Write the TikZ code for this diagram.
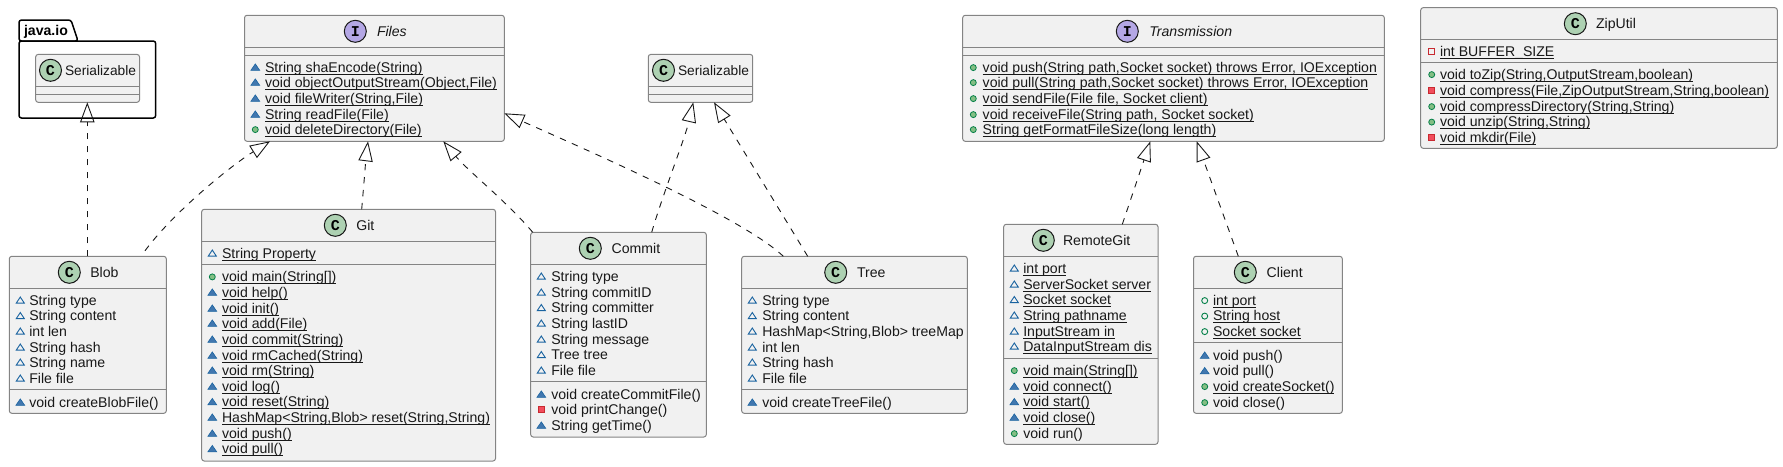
\documentclass[tikz,border=0pt]{standalone}
\usepackage{fontspec}
\setmainfont{Liberation Sans}
\newfontfamily\spotfont{Liberation Mono}
\usetikzlibrary{arrows.meta}
\definecolor{boxfill}{HTML}{F1F1F1}
\definecolor{boxline}{HTML}{848484}
\definecolor{ink}{HTML}{181818}
\definecolor{spotC}{HTML}{ADD1B2}
\definecolor{spotI}{HTML}{B4A7E5}
\definecolor{pkgfill}{HTML}{4177AF}
\definecolor{pkgline}{HTML}{1963A0}
\definecolor{pubfill}{HTML}{84BE84}
\definecolor{publine}{HTML}{038048}
\definecolor{prifill}{HTML}{F24D5C}
\definecolor{priline}{HTML}{C82930}
\newcommand\fs{\fontsize{14.1}{16}\selectfont}
\newcommand\sersz{\fontsize{13.75}{16}\selectfont}
\tikzset{
  x=1pt,y=-1pt,
  box/.style={draw=boxline,fill=boxfill,line width=1pt,rounded corners=2.5pt,inner sep=0pt,outer sep=0pt},
  sepline/.style={draw=boxline,line width=1pt},
  txt/.style={anchor=base west,inner sep=0pt,outer sep=0pt,text=ink,font=\fs},
  spot/.style={circle,draw=ink,line width=1pt,minimum size=22pt,inner sep=0pt,text=black,font=\spotfont\bfseries\fontsize{15}{15}\selectfont},
  impl/.style={draw=ink,line width=0.9pt,dash pattern=on 6.4pt off 6.6pt,-{Triangle[open,length=20pt,width=14.4pt,fill=none]}},
  pkgbox/.style={draw=black,line width=1.5pt,fill=white,rounded corners=2.5pt},
}
\newcount\rowc
\newcommand\iPkgM[2]{\fill[pkgfill,draw=pkgline,line width=.6pt] (#1-4.4,#2+3.3) -- (#1+4.4,#2+3.3) -- (#1,#2-3.1) -- cycle;}
\newcommand\iPkgF[2]{\draw[pkgline,line width=.9pt] (#1-4,#2+3.1) -- (#1+4,#2+3.1) -- (#1,#2-3.0) -- cycle;}
\newcommand\iPubM[2]{\fill[pubfill,draw=publine,line width=.8pt] (#1,#2+.6) circle (3pt);}
\newcommand\iPubF[2]{\draw[publine,line width=.9pt] (#1,#2+.6) circle (3pt);}
\newcommand\iPriM[2]{\fill[prifill,draw=priline,line width=.6pt] (#1-3,#2-2.6) rectangle (#1+3,#2+3.4);}
\newcommand\iPriF[2]{\draw[priline,line width=.9pt] (#1-3,#2-2.6) rectangle (#1+3,#2+3.4);}
\newcommand\ulin[1]{\setbox0\hbox{#1}\rlap{\rule[-2.7pt]{\wd0}{1pt}}\box0 }
% plain row: kind, y-centre, text
\newcommand\rw[3]{\csname i#1\endcsname{\ix}{#2}\global\advance\rowc by 1
  \node[txt] (row\the\rowc) at (\tx,#2+5) {#3};}
% underlined (static) row
\newcommand\ur[3]{\rw{#1}{#2}{\ulin{#3}}}
% class box: name,x0,y0,x1,y1,sep1,sep2,spot cx,spot cy,letter,title x,title
\newcommand\cls[9]{\node[box,minimum width={#4-#2},minimum height={#5-#3}] (#1) at ({(#2+#4)/2},{(#3+#5)/2}) {};
  \draw[sepline] (#2,#6) -- (#4,#6); \draw[sepline] (#2,#7) -- (#4,#7);
  \def\spx{#8}\def\spy{#9}\clsb{#1}}
\newcommand\clsb[4]{\node[spot,fill=spot#2] (#1spot) at (\spx,\spy) {#2};
  \node[txt] (#1title) at (#3,\spy+5) {#4};}
\begin{document}
\begin{tikzpicture}
\useasboundingbox (0,0) rectangle (1783,466);
% package java.io
\draw[pkgbox] (19,41) -- (19,20) -- (71,20) -- (78,41) -- cycle;
\draw[pkgbox] (19,41) -- (155.7,41) -- (155.7,118) -- (19,118) -- cycle;
\node[txt,font=\fs\bfseries,text=black] (pkgname) at (24,35.5) {java.io};
% Serializable in java.io
\cls{ioser}{35.7}{54.4}{139.5}{102.3}{86.3}{94.3}{50.5}{70.3}{C}{65}{\sersz Serializable}
% Files
\cls{files}{244.5}{15.3}{504.3}{141.3}{47.3}{55.3}{355.3}{31.3}{I}{377}{\itshape Files}
\def\ix{255.3}\def\tx{265}
\ur{PkgM}{67}{String shaEncode(String)}
\ur{PkgM}{82}{void objectOutputStream(Object,File)}
\ur{PkgM}{98}{void fileWriter(String,File)}
\ur{PkgM}{114}{String readFile(File)}
\ur{PubM}{129}{void deleteDirectory(File)}
% Serializable
\cls{ser}{648.3}{54.4}{752.7}{102.3}{86.3}{94.3}{663.5}{70.3}{C}{678}{\sersz Serializable}
% Transmission
\cls{trans}{962.7}{15.3}{1384.3}{141.3}{47.3}{55.3}{1127.3}{31.3}{I}{1149.3}{\itshape Transmission}
\def\ix{973.3}\def\tx{982.7}
\ur{PubM}{67}{void push(String path,Socket socket) throws Error, IOException}
\ur{PubM}{82}{void pull(String path,Socket socket) throws Error, IOException}
\ur{PubM}{98}{void sendFile(File file, Socket client)}
\ur{PubM}{114}{void receiveFile(String path, Socket socket)}
\ur{PubM}{129}{String getFormatFileSize(long length)}
% ZipUtil
\cls{zip}{1420.7}{7.7}{1777.3}{148.3}{39.3}{62.3}{1575.3}{23.7}{C}{1596}{ZipUtil}
\def\ix{1431.7}\def\tx{1440}
\ur{PriF}{51}{int BUFFER\_SIZE}
\ur{PubM}{74}{void toZip(String,OutputStream,boolean)}
\ur{PriM}{90}{void compress(File,ZipOutputStream,String,boolean)}
\ur{PubM}{106}{void compressDirectory(String,String)}
\ur{PubM}{121.5}{void unzip(String,String)}
\ur{PriM}{137}{void mkdir(File)}
% Blob
\cls{blob}{9.3}{256.3}{166.3}{413.3}{288.3}{389.3}{69.3}{272.3}{C}{90.3}{Blob}
\def\ix{20.3}\def\tx{29.3}
\rw{PkgF}{300}{String type}
\rw{PkgF}{315.5}{String content}
\rw{PkgF}{331}{int len}
\rw{PkgF}{347}{String hash}
\rw{PkgF}{362}{String name}
\rw{PkgF}{378}{File file}
\rw{PkgM}{402}{void createBlobFile()}
% Git
\cls{git}{201.7}{209.3}{495.5}{461}{241.3}{264.3}{335.3}{225.3}{C}{356.3}{Git}
\def\ix{212.3}\def\tx{222}
\ur{PkgF}{253}{String Property}
\ur{PubM}{276.3}{void main(String[])}
\ur{PkgM}{292}{void help()}
\ur{PkgM}{308}{void init()}
\ur{PkgM}{323}{void add(File)}
\ur{PkgM}{339}{void commit(String)}
\ur{PkgM}{355}{void rmCached(String)}
\ur{PkgM}{370}{void rm(String)}
\ur{PkgM}{386}{void log()}
\ur{PkgM}{401.5}{void reset(String)}
\ur{PkgM}{417}{HashMap<String,Blob> reset(String,String)}
\ur{PkgM}{433}{void push()}
\ur{PkgM}{448.5}{void pull()}
% Commit
\cls{commit}{530.7}{232.3}{706.3}{437}{264.3}{381.3}{590.3}{248.3}{C}{611.7}{Commit}
\def\ix{541.3}\def\tx{551.3}
\rw{PkgF}{276}{String type}
\rw{PkgF}{292}{String commitID}
\rw{PkgF}{307.5}{String committer}
\rw{PkgF}{323}{String lastID}
\rw{PkgF}{339}{String message}
\rw{PkgF}{354.5}{Tree tree}
\rw{PkgF}{370}{File file}
\rw{PkgM}{394}{void createCommitFile()}
\rw{PriM}{409}{void printChange()}
\rw{PkgM}{425}{String getTime()}
% Tree
\cls{tree}{741.7}{256.3}{967.3}{413.3}{288.3}{389.3}{835.7}{272.3}{C}{857}{Tree}
\def\ix{752.3}\def\tx{762.3}
\rw{PkgF}{300}{String type}
\rw{PkgF}{315.5}{String content}
\rw{PkgF}{331}{HashMap<String,Blob> treeMap}
\rw{PkgF}{347}{int len}
\rw{PkgF}{362}{String hash}
\rw{PkgF}{378}{File file}
\rw{PkgM}{402}{void createTreeFile()}
% RemoteGit
\cls{remote}{1003.7}{224.3}{1158}{444.3}{256.3}{358.3}{1043.3}{240.3}{C}{1063}{RemoteGit}
\def\ix{1014.3}\def\tx{1023.3}
\ur{PkgF}{268}{int port}
\ur{PkgF}{284}{ServerSocket server}
\ur{PkgF}{299.5}{Socket socket}
\ur{PkgF}{315}{String pathname}
\ur{PkgF}{331}{InputStream in}
\ur{PkgF}{346}{DataInputStream dis}
\ur{PubM}{370}{void main(String[])}
\ur{PkgM}{386}{void connect()}
\ur{PkgM}{401.5}{void start()}
\ur{PkgM}{417}{void close()}
\rw{PubM}{433}{void run()}
% Client
\cls{client}{1193.5}{256.3}{1342.3}{413.3}{288.3}{342.3}{1245.3}{272.3}{C}{1266.7}{Client}
\def\ix{1204.7}\def\tx{1213}
\ur{PubF}{300}{int port}
\ur{PubF}{315.5}{String host}
\ur{PubF}{331}{Socket socket}
\rw{PkgM}{355}{void push()}
\rw{PkgM}{370.5}{void pull()}
\ur{PubM}{386}{void createSocket()}
\rw{PubM}{402}{void close()}
% connectors
\draw[impl] ([xshift=78pt]blob.north west) -- ([xshift=51.6pt]ioser.south west);
\draw[impl] ([xshift=135.7pt,yshift=5.5pt]blob.north west) .. controls +(28,-38) and +(-40,25) .. ([xshift=25.5pt]files.south west);
\draw[impl] ([xshift=160pt]git.north west) .. controls +(1,-12) and +(-1.5,12) .. ([xshift=123.5pt]files.south west);
\draw[impl] ([xshift=2pt]commit.north west) .. controls +(-25,-30) and +(25,30) .. ([xshift=198.8pt]files.south west);
\draw[impl] ([xshift=41.6pt]tree.north west) .. controls +(-40,-38) and +(90,40) .. ([yshift=28pt]files.south east);
\draw[impl] ([xshift=121pt]commit.north west) .. controls +(10,-35) and +(-8,35) .. ([xshift=45pt]ser.south west);
\draw[impl] ([xshift=66pt]tree.north west) -- ([xshift=65.7pt]ser.south west);
\draw[impl] ([xshift=118.6pt]remote.north west) -- ([xshift=187.6pt]trans.south west);
\draw[impl] ([xshift=44.8pt]client.north west) -- ([xshift=234pt]trans.south west);
\end{tikzpicture}
\end{document}
